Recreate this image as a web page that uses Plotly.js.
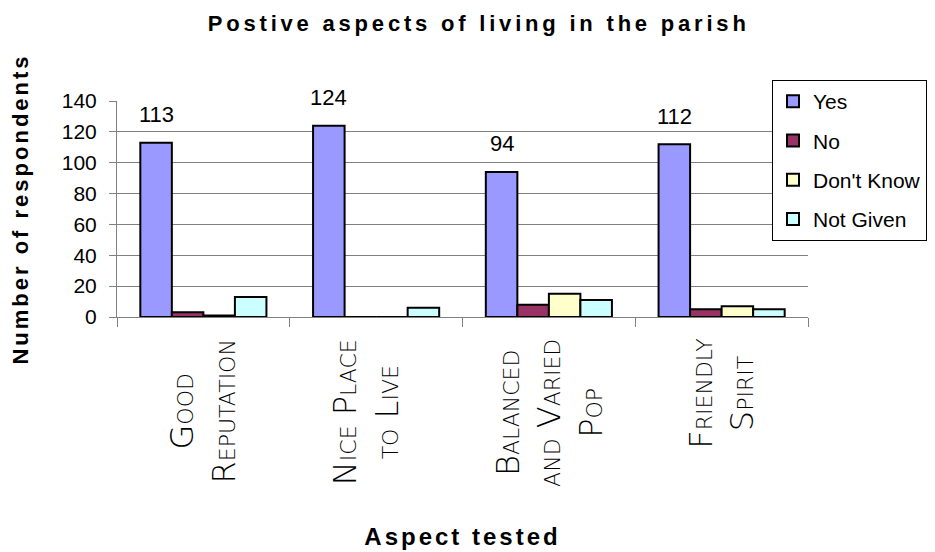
<!DOCTYPE html>
<html><head><meta charset="utf-8">
<script src="https://cdn.plot.ly/plotly-3.0.1.min.js"></script>
<style>body{margin:0;background:#fff}</style>
</head><body>
<div id="chart" style="width:935px;height:552px"></div>
<script>
// ---- data ----
const categories = ["Good Reputation", "Nice Place to Live", "Balanced and Varied Pop", "Friendly Spirit"];
const categoryLabels = ["Good<br>Reputation", "Nice Place<br>to Live", "Balanced<br>and Varied<br>Pop", "Friendly<br>Spirit"];
const seriesNames = ["Yes", "No", "Don't Know", "Not Given"];
const yesValues = [113, 124, 94, 112];
const noValues = [3, 0, 8, 5];
const dontKnowValues = [1, 0, 15, 7];
const notGivenValues = [13, 6, 11, 5];
const yTickValues = [0, 20, 40, 60, 80, 100, 120, 140];
const chartTitle = "Postive aspects of living in the parish";
const xTitle = "Aspect tested";
const yTitle = "Number of respondents";

// ---- style ----
const colors = ["#9999FF", "#993366", "#FFFFCC", "#CCFFFF"];
const W = 935, H = 552;
const M = {l: 117, r: 127, t: 101, b: 235, autoexpand: false};
const bargap = 0.27;
const plotW = W - M.l - M.r;
const plotH = H - M.t - M.b;
const groupW = plotW / categories.length;
const barW = groupW * (1 - bargap) / seriesNames.length;
const yesShift = -1.5 * barW;
const labelShifts = [0, -10, 0, 0];

const seriesValues = [yesValues, noValues, dontKnowValues, notGivenValues];
const traces = seriesNames.map((name, i) => ({
  type: "bar",
  name: name,
  x: categories,
  y: seriesValues[i],
  legendgroup: "g" + i,
  marker: {color: colors[i], line: {color: "#000", width: 2}},
  hoverinfo: "x+y+name"
}));

const annotations = [];
categories.forEach((c, i) => {
  annotations.push({
    x: c, y: yesValues[i], xref: "x", yref: "y",
    text: String(yesValues[i]), showarrow: false,
    xshift: yesShift, yshift: 28, yanchor: "middle",
    font: {family: "Liberation Sans, Arial, sans-serif", size: 22, color: "#000"}
  });
  annotations.push({
    x: c, y: 0, xref: "x", yref: "paper",
    text: categoryLabels[i], showarrow: false,
    textangle: -90, align: "center", yanchor: "top", yshift: -20, xshift: labelShifts[i],
    font: {family: "DejaVu Sans, sans-serif", size: 32, variant: "small-caps", weight: 200, color: "#000"}
  });
});

const layout = {
  width: W, height: H,
  margin: M,
  paper_bgcolor: "#fff", plot_bgcolor: "#fff",
  barmode: "group", bargap: bargap, bargroupgap: 0,
  font: {family: "Liberation Sans, Arial, sans-serif", color: "#000"},
  title: {
    text: chartTitle, x: 0.512, xref: "container", xanchor: "center",
    y: 1 - 23 / H, yref: "container", yanchor: "middle",
    font: {family: "Liberation Sans, Arial, sans-serif", size: 22, weight: "bold", color: "#000"}
  },
  xaxis: {
    type: "category",
    showticklabels: false,
    ticks: "outside", tickson: "boundaries", ticklen: 9, tickcolor: "#808080", tickwidth: 1,
    showline: true, linecolor: "#808080", linewidth: 1,
    showgrid: false, zeroline: false,
    title: {text: xTitle, standoff: 211,
      font: {family: "Liberation Sans, Arial, sans-serif", size: 24, weight: "bold", color: "#000"}}
  },
  yaxis: {
    range: [0, 140], tickvals: yTickValues,
    ticks: "outside", ticklen: 7, tickcolor: "#808080", tickwidth: 1,
    ticklabelstandoff: 8,
    tickfont: {family: "Liberation Sans, Arial, sans-serif", size: 21, color: "#000"},
    showline: true, linecolor: "#808080", linewidth: 1,
    showgrid: true, gridcolor: "#808080", gridwidth: 1,
    zeroline: false,
    title: {text: yTitle, standoff: 27,
      font: {family: "Liberation Sans, Arial, sans-serif", size: 22, weight: "bold", color: "#000"}}
  },
  legend: {
    x: (772 - M.l) / plotW, y: (H - M.b - 80) / plotH, xanchor: "left", yanchor: "top",
    bgcolor: "#fff", bordercolor: "#000", borderwidth: 1,
    font: {family: "Liberation Sans, Arial, sans-serif", size: 21, color: "#000"},
    tracegroupgap: 9, itemwidth: 30, traceorder: "grouped"
  },
  annotations: annotations,
  showlegend: true
};

Plotly.newPlot("chart", traces, layout, {displayModeBar: false, staticPlot: true}).then(gd => {
  gd.querySelectorAll(".gtitle").forEach(t => t.style.letterSpacing = "3.8px");
  gd.querySelectorAll(".g-xtitle text").forEach(t => t.style.letterSpacing = "3px");
  gd.querySelectorAll(".g-ytitle text").forEach(t => t.style.letterSpacing = "3px");
});
</script>
</body></html>
